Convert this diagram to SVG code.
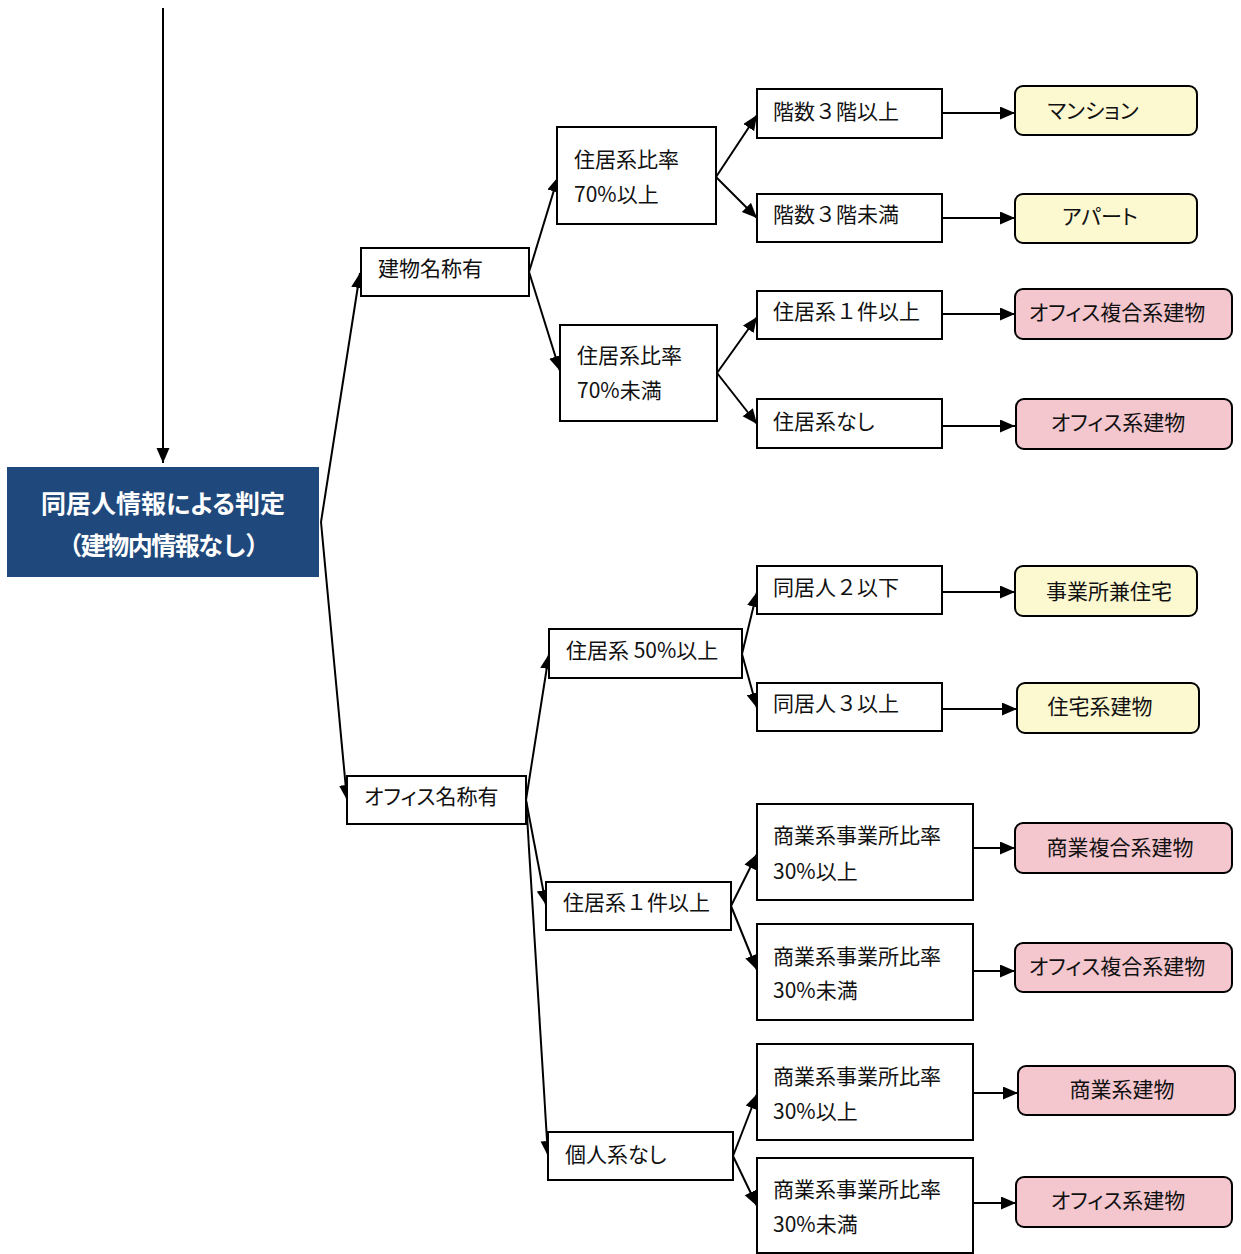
<svg xmlns="http://www.w3.org/2000/svg" width="1241" height="1254" viewBox="0 0 1241 1254">
<defs>
<marker id="ah" markerUnits="userSpaceOnUse" markerWidth="16" markerHeight="14" refX="15" refY="6.5" orient="auto">
<path d="M0,0 L15,6.5 L0,13 z" fill="#000"/>
</marker>
<style>
text{font-family:"Noto Sans CJK JP","Noto Sans",sans-serif;font-size:21px;fill:#111;font-feature-settings:"palt";}
text.n{font-feature-settings:normal;}
.b{fill:#fff;stroke:#000;stroke-width:2;}
.y{fill:#fcf8d0;stroke:#000;stroke-width:2;}
.p{fill:#f4c6ce;stroke:#000;stroke-width:2;}
.c{text-anchor:middle;}
.w{fill:#fff;font-weight:bold;font-size:25px;text-anchor:middle;}
#edges line{stroke:#000;stroke-width:2;fill:none;marker-end:url(#ah);}
</style>
</defs>
<rect width="1241" height="1254" fill="#fff"/>
<g id="edges">
<line x1="163" y1="8" x2="163" y2="463"/>
<line x1="321" y1="522" x2="360" y2="273"/>
<line x1="321" y1="522" x2="347" y2="800"/>
<line x1="529" y1="272" x2="558" y2="177"/>
<line x1="529" y1="272" x2="560" y2="371"/>
<line x1="716" y1="177" x2="757" y2="115"/>
<line x1="716" y1="177" x2="757" y2="218"/>
<line x1="717" y1="373" x2="757" y2="317"/>
<line x1="717" y1="373" x2="757" y2="424"/>
<line x1="942" y1="113" x2="1015" y2="113"/>
<line x1="942" y1="218" x2="1015" y2="218"/>
<line x1="942" y1="314" x2="1015" y2="314"/>
<line x1="942" y1="426" x2="1015" y2="426"/>
<line x1="526" y1="800" x2="549" y2="654"/>
<line x1="526" y1="800" x2="546" y2="905"/>
<line x1="526" y1="800" x2="548" y2="1156"/>
<line x1="742" y1="654" x2="757" y2="592"/>
<line x1="742" y1="654" x2="757" y2="708"/>
<line x1="942" y1="592" x2="1015" y2="592"/>
<line x1="942" y1="709" x2="1017" y2="709"/>
<line x1="731" y1="906" x2="757" y2="854"/>
<line x1="731" y1="906" x2="757" y2="970"/>
<line x1="733" y1="1156" x2="757" y2="1094"/>
<line x1="733" y1="1156" x2="757" y2="1206"/>
<line x1="973" y1="848" x2="1015" y2="848"/>
<line x1="973" y1="971" x2="1015" y2="971"/>
<line x1="973" y1="1093" x2="1018" y2="1093"/>
<line x1="973" y1="1203" x2="1016" y2="1203"/>
</g>
<g id="root">
<rect x="7" y="467" width="312" height="110" fill="#1f497d"/>
<text class="w" x="163" y="513">同居人情報による判定</text>
<text class="w n" x="163" y="555" letter-spacing="-1.5">（建物内情報なし）</text>
</g>
<g id="n-tatemono"><rect class="b" x="361" y="248" width="168" height="48"/><text x="378" y="276">建物名称有</text></g>
<g id="n-jk70up"><rect class="b" x="557" y="127" width="159" height="97"/><text x="574" y="167">住居系比率</text><text x="574" y="202">70%以上</text></g>
<g id="n-jk70dn"><rect class="b" x="560" y="325" width="157" height="96"/><text x="577" y="363">住居系比率</text><text x="577" y="398">70%未満</text></g>
<g id="n-k3up"><rect class="b" x="757" y="89" width="185" height="49"/><text class="n" x="773" y="119">階数３階以上</text></g>
<g id="n-k3dn"><rect class="b" x="757" y="194" width="185" height="48"/><text class="n" x="773" y="222">階数３階未満</text></g>
<g id="n-j1a"><rect class="b" x="757" y="291" width="185" height="48"/><text class="n" x="773" y="319">住居系１件以上</text></g>
<g id="n-jnone"><rect class="b" x="757" y="399" width="185" height="49"/><text x="773" y="429">住居系なし</text></g>
<g id="r-mansion"><rect class="y" x="1015" y="86" width="182" height="49" rx="8"/><text class="c" x="1093" y="118">マンション</text></g>
<g id="r-apart"><rect class="y" x="1015" y="194" width="182" height="49" rx="8"/><text class="c" x="1100" y="224">アパート</text></g>
<g id="r-ofcomp1"><rect class="p" x="1015" y="289" width="217" height="50" rx="8"/><text class="c" x="1117" y="320">オフィス複合系建物</text></g>
<g id="r-of1"><rect class="p" x="1016" y="399" width="216" height="50" rx="8"/><text class="c" x="1118" y="430">オフィス系建物</text></g>
<g id="n-office"><rect class="b" x="347" y="776" width="179" height="48"/><text x="364" y="804">オフィス名称有</text></g>
<g id="n-j50"><rect class="b" x="549" y="629" width="193" height="49"/><text x="566" y="658">住居系 50%以上</text></g>
<g id="n-d2"><rect class="b" x="757" y="566" width="185" height="48"/><text class="n" x="773" y="595">同居人２以下</text></g>
<g id="n-d3"><rect class="b" x="757" y="683" width="185" height="48"/><text class="n" x="773" y="711">同居人３以上</text></g>
<g id="r-jigyo"><rect class="y" x="1015" y="566" width="182" height="50" rx="8"/><text class="c" x="1109" y="599">事業所兼住宅</text></g>
<g id="r-jutaku"><rect class="y" x="1017" y="683" width="182" height="50" rx="8"/><text class="c" x="1100" y="714">住宅系建物</text></g>
<g id="n-j1b"><rect class="b" x="546" y="882" width="185" height="48"/><text class="n" x="563" y="910">住居系１件以上</text></g>
<g id="n-kojin"><rect class="b" x="548" y="1132" width="185" height="48"/><text x="565" y="1162">個人系なし</text></g>
<g id="n-s30a"><rect class="b" x="757" y="804" width="216" height="96"/><text x="773" y="843">商業系事業所比率</text><text x="773" y="879">30%以上</text></g>
<g id="n-s30b"><rect class="b" x="757" y="924" width="216" height="96"/><text x="773" y="964">商業系事業所比率</text><text x="773" y="998">30%未満</text></g>
<g id="n-s30c"><rect class="b" x="757" y="1044" width="216" height="96"/><text x="773" y="1084">商業系事業所比率</text><text x="773" y="1119">30%以上</text></g>
<g id="n-s30d"><rect class="b" x="757" y="1158" width="216" height="95"/><text x="773" y="1197">商業系事業所比率</text><text x="773" y="1232">30%未満</text></g>
<g id="r-shocomp"><rect class="p" x="1015" y="823" width="217" height="50" rx="8"/><text class="c" x="1120" y="855">商業複合系建物</text></g>
<g id="r-ofcomp2"><rect class="p" x="1015" y="943" width="217" height="49" rx="8"/><text class="c" x="1117" y="974">オフィス複合系建物</text></g>
<g id="r-shogyo"><rect class="p" x="1018" y="1066" width="217" height="49" rx="8"/><text class="c" x="1122" y="1097">商業系建物</text></g>
<g id="r-of2"><rect class="p" x="1016" y="1177" width="216" height="50" rx="8"/><text class="c" x="1118" y="1208">オフィス系建物</text></g>
</svg>
